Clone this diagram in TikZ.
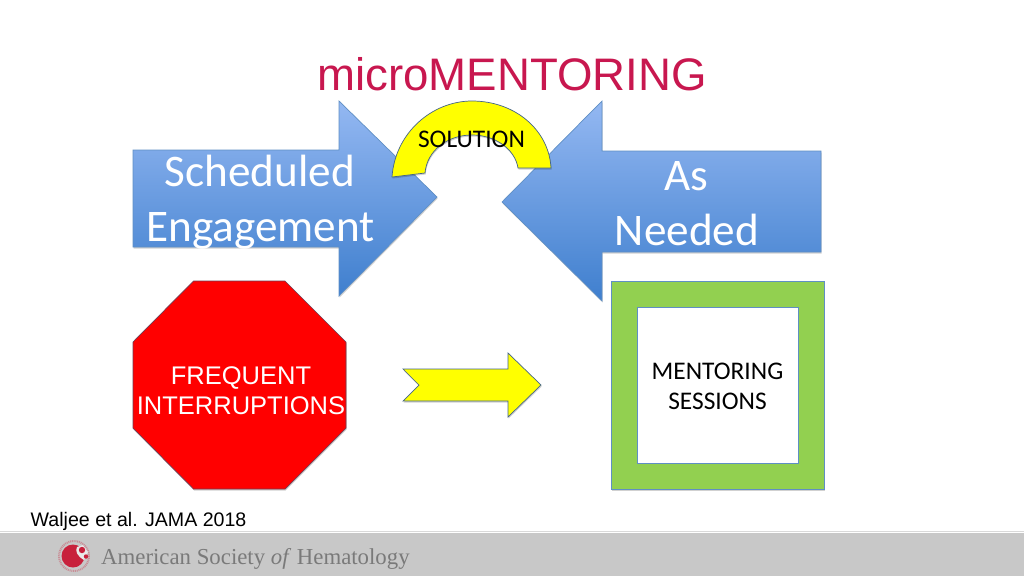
\documentclass[tikz,border=0pt]{standalone}
\usepackage{fontspec}
\setmainfont{Liberation Sans}
\newfontfamily\calibrifont{Carlito}
\newfontfamily\serifname{Liberation Serif}
\usetikzlibrary{shadows}
\definecolor{titlered}{HTML}{C8174F}
\definecolor{edgeblue}{HTML}{5F8FC4}
\definecolor{bluetop}{HTML}{94B8F2}
\definecolor{bluebot}{HTML}{3F7FCE}
\definecolor{framegreen}{HTML}{92D050}
\definecolor{footgray}{HTML}{C8C8C8}
\definecolor{footline}{HTML}{D9D9D9}
\definecolor{footink}{HTML}{7A7A7A}
\definecolor{logored}{HTML}{C8213C}
\definecolor{solidyellow}{RGB}{255,255,0}
\definecolor{solidred}{RGB}{255,0,0}
\tikzset{
  softshadow/.style={drop shadow={shadow xshift=0.6pt,shadow yshift=-1.5pt,opacity=.18,fill=black}},
  bluearrow/.style={draw=edgeblue,line width=.7pt,top color=bluetop,bottom color=bluebot,middle color=bluetop!50!bluebot,softshadow},
  yellowshape/.style={draw=edgeblue!70!black,line width=.7pt,fill=solidyellow,softshadow},
  bigtext/.style={font=\calibrifont\fontsize{45.2}{45.2}\selectfont,text=white,inner sep=0pt,anchor=base},
  smalltext/.style={font=\calibrifont\fontsize{25.4}{25.4}\selectfont,text=black,inner sep=0pt,anchor=base},
  armtext/.style={font=\fontsize{25.5}{25.5}\selectfont,text=white,inner sep=0pt,anchor=base},
}
\begin{document}
\begin{tikzpicture}[x=1pt,y=-1pt]
\useasboundingbox (0,0) rectangle (1024,576);
\fill[white] (0,0) rectangle (1024,576);
% footer
\fill[footgray] (0,533) rectangle (1024,576);
\draw[footline,line width=1pt] (0,531) -- (1024,531);
% title
\node[inner sep=0pt,anchor=base,text=titlered,font=\fontsize{45.6}{45.6}\selectfont] (title) at (512,90) {microMENTORING};
% blue arrows
\path[bluearrow] (133,150) -- (339,150) -- (339,101) -- (437,197) -- (339,296) -- (339,247) -- (133,247) -- cycle;
\path[bluearrow] (821,151) -- (602,151) -- (602,101) -- (502,202) -- (602,301) -- (602,252) -- (821,252) -- cycle;
\node[bigtext] (sched) at (260,186) {Scheduled};
\node[bigtext] (engage) at (260.5,241) {Engagement};
\node[bigtext] (as) at (686,190) {As};
\node[bigtext] (needed) at (687,245) {Needed};
% solution arc
\path[yellowshape] (392,177) .. controls (395,133) and (432,101) .. (472,101)
   .. controls (515,101) and (549,130) .. (551,168) -- (518,168)
   .. controls (515,149) and (495,135) .. (472,135)
   .. controls (448,135) and (427,150) .. (425,173) -- cycle;
\node[smalltext] (solution) at (471.5,147.5) {SOLUTION};
% octagon
\path[draw=edgeblue!60!red!70!black,line width=.7pt,fill=solidred,softshadow] (193.5,281) -- (285,281) -- (346,342) -- (346,428) -- (285,489) -- (193.5,489) -- (133,428) -- (133,342) -- cycle;
\node[armtext] (freq) at (241,384) {FREQUENT};
\node[armtext] (inter) at (241,414) {INTERRUPTIONS};
% yellow arrow
\path[yellowshape] (403,369) -- (508,369) -- (508,353) -- (541,385) -- (508,417) -- (508,401) -- (403,401) -- (419,385) -- cycle;
% frame
\path[draw=edgeblue,line width=.7pt,fill=framegreen,softshadow] (611,281) rectangle (824,489);
\path[draw=edgeblue,line width=.7pt,fill=white] (637,307) rectangle (798,463);
\node[smalltext] (ment) at (717.5,379) {MENTORING};
\node[smalltext] (sess) at (717.5,409) {SESSIONS};
% citation
\node[inner sep=0pt,anchor=base west,text=black,font=\fontsize{19.6}{19.6}\selectfont] (cite) at (30.5,526) {Waljee et al. JAMA 2018};
% logo
\draw[logored!35!footgray,line width=2pt,dash pattern=on 1pt off .8pt] (74,556) circle (15);
\fill[logored] (73,556) circle (11.5);
\fill[footgray!40!white] (77,547) .. controls (75,551) and (77,556) .. (84,560) -- (88,552) -- (83,545) -- cycle;
\fill[logored] (82,550) circle (3.2);
\fill[logored] (86,556.5) circle (2.2);
% footer text
\node[inner sep=0pt,anchor=base west,text=footink,font=\serifname\fontsize{22.8}{22.8}\selectfont] (ash) at (101,564) {American Society \textit{of} Hematology};
\end{tikzpicture}
\end{document}
